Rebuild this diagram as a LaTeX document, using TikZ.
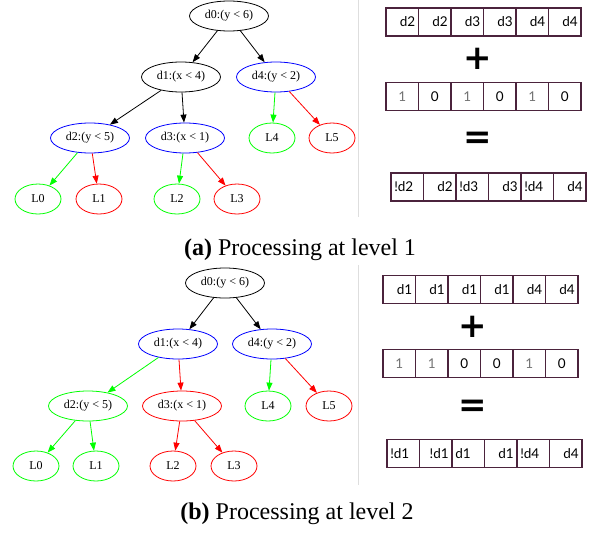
\documentclass[tikz,border=0pt]{standalone}
\usepackage{fontspec}
\setmainfont{Liberation Serif}
\newfontfamily\cellfont{Lato}
\newfontfamily\signfont{DejaVu Sans}
\usetikzlibrary{shapes.geometric, arrows.meta, positioning}
\definecolor{cellc}{RGB}{75,35,60}
\definecolor{rulec}{RGB}{222,222,222}

\begin{document}
\begin{tikzpicture}[x=1pt, y=-1pt,
every edge/.style = {draw, line width=0.8pt, -{Triangle[length=8pt,width=6pt]}},
 dnode/.style = {ellipse, draw, line width=0.8pt, inner sep=0pt,
      minimum width=79pt, minimum height=30pt,
      font=\fontsize{12}{14}\selectfont},
 leaf/.style = {dnode, minimum width=46pt},
 cell/.style = {rectangle, draw=cellc, line width=1.3pt,
      minimum width=32.5pt, minimum height=28pt, inner sep=0pt,
      outer sep=0pt, text width=26pt,
      font=\cellfont\fontsize{13.5}{15}\selectfont},
 cellr/.style = {cell, align=right},
 celll/.style = {cell, align=left},
 cellm/.style = {cell, align=center, text=black!55},
 sign/.style = {font=\signfont\bfseries\fontsize{34}{36}\selectfont},
 capt/.style = {anchor=base, font=\fontsize{24}{28}\selectfont}
                    ]
\useasboundingbox (0,0) rectangle (594,533);
\draw[rulec, line width=1pt] (358,0) -- (358,217);
\draw[rulec, line width=1pt] (358,265) -- (358,485);
% (a) tree
\node(a0) [dnode] at (229,16) {d0:(y < 6)};
\node(a1) [dnode] at (181,77) {d1:(x < 4)};
\node(a4) [dnode, draw=blue] at (276,77) {d4:(y < 2)};
\node(a2) [dnode, draw=blue] at (90,138) {d2:(y < 5)};
\node(a3) [dnode, draw=blue] at (185,138) {d3:(x < 1)};
\node(aL4) [leaf, draw=green] at (272,138) {L4};
\node(aL5) [leaf, draw=red] at (332,138) {L5};
\node(aL0) [leaf, draw=green] at (38,199) {L0};
\node(aL1) [leaf, draw=red] at (99,199) {L1};
\node(aL2) [leaf, draw=green] at (177,199) {L2};
\node(aL3) [leaf, draw=red] at (237,199) {L3};
%
\path   (a0) edge (a1)
        (a0) edge (a4)
        (a1) edge (a2)
        (a1) edge (a3)
        (a2) edge[green] (aL0)
        (a2) edge[red] (aL1)
        (a3) edge[green] (aL2)
        (a3) edge[red] (aL3)
        (a4) edge[green] (aL4)
        (a4) edge[red] (aL5);
% (a) arrays
\node(ta1) [cellr] at (402.25,22) {d2};
\node(ta2) [cellr, right=0pt of ta1] {d2};
\node(ta3) [cellr, right=0pt of ta2] {d3};
\node(ta4) [cellr, right=0pt of ta3] {d3};
\node(ta5) [cellr, right=0pt of ta4] {d4};
\node(ta6) [cellr, right=0pt of ta5] {d4};
\node(tplus) [sign] at (478,59) {+};
\node(tb1) [cellm] at (402.25,96.5) {1};
\node(tb2) [cellm, text=black, right=0pt of tb1] {0};
\node(tb3) [cellm, right=0pt of tb2] {1};
\node(tb4) [cellm, text=black, right=0pt of tb3] {0};
\node(tb5) [cellm, right=0pt of tb4] {1};
\node(tb6) [cellm, text=black, right=0pt of tb5] {0};
\node(teq) [sign] at (478,140) {=};
\node(tc1) [celll] at (407.25,187) {!d2};
\node(tc2) [cellr, right=0pt of tc1] {d2};
\node(tc3) [celll, right=0pt of tc2] {!d3};
\node(tc4) [cellr, right=0pt of tc3] {d3};
\node(tc5) [celll, right=0pt of tc4] {!d4};
\node(tc6) [cellr, right=0pt of tc5] {d4};
\node(capa) [capt] at (300,255) {\textbf{(a)} Processing at level 1};
% (b) tree
\node(b0) [dnode] at (225,283) {d0:(y < 6)};
\node(b1) [dnode, draw=blue] at (178,344) {d1:(x < 4)};
\node(b4) [dnode, draw=blue] at (272,344) {d4:(y < 2)};
\node(b2) [dnode, draw=green] at (88,406) {d2:(y < 5)};
\node(b3) [dnode, draw=red] at (182,406) {d3:(x < 1)};
\node(bL4) [leaf, draw=green] at (268,406) {L4};
\node(bL5) [leaf, draw=red] at (329,406) {L5};
\node(bL0) [leaf, draw=green] at (36,466) {L0};
\node(bL1) [leaf, draw=green] at (96,466) {L1};
\node(bL2) [leaf, draw=red] at (173,466) {L2};
\node(bL3) [leaf, draw=red] at (234,466) {L3};
%
\path   (b0) edge (b1)
        (b0) edge (b4)
        (b1) edge[green] (b2)
        (b1) edge[red] (b3)
        (b2) edge[green] (bL0)
        (b2) edge[green] (bL1)
        (b3) edge[red] (bL2)
        (b3) edge[red] (bL3)
        (b4) edge[green] (bL4)
        (b4) edge[red] (bL5);
% (b) arrays
\node(ba1) [cellr] at (399.2,289.5) {d1};
\node(ba2) [cellr, right=0pt of ba1] {d1};
\node(ba3) [cellr, right=0pt of ba2] {d1};
\node(ba4) [cellr, right=0pt of ba3] {d1};
\node(ba5) [cellr, right=0pt of ba4] {d4};
\node(ba6) [cellr, right=0pt of ba5] {d4};
\node(bplus) [sign] at (473,327) {+};
\node(bb1) [cellm] at (399.2,363.5) {1};
\node(bb2) [cellm, right=0pt of bb1] {1};
\node(bb3) [cellm, text=black, right=0pt of bb2] {0};
\node(bb4) [cellm, text=black, right=0pt of bb3] {0};
\node(bb5) [cellm, right=0pt of bb4] {1};
\node(bb6) [cellm, text=black, right=0pt of bb5] {0};
\node(beq) [sign] at (473,408) {=};
\node(bc1) [celll] at (403.25,453.5) {!d1};
\node(bc2) [cellr, right=0pt of bc1] {!d1};
\node(bc3) [celll, right=0pt of bc2] {d1};
\node(bc4) [cellr, right=0pt of bc3] {d1};
\node(bc5) [celll, right=0pt of bc4] {!d4};
\node(bc6) [cellr, right=0pt of bc5] {d4};
\node(capb) [capt] at (297,519) {\textbf{(b)} Processing at level 2};
\end{tikzpicture}
\end{document}
